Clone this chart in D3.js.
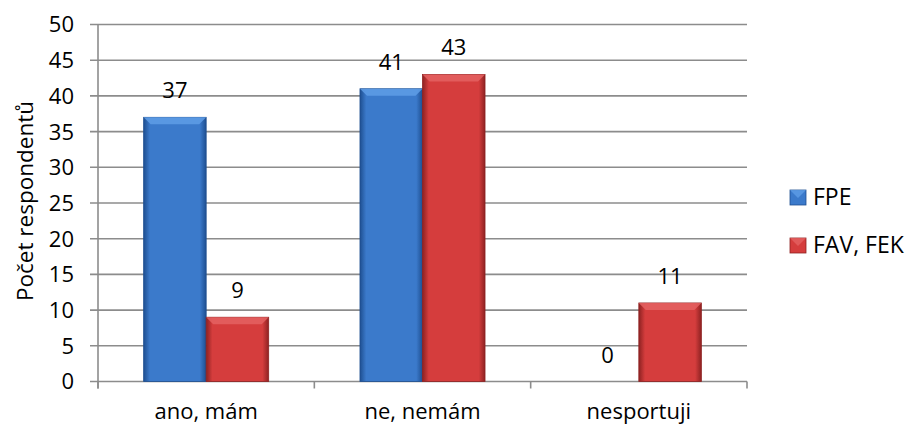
<!DOCTYPE html>
<html><head><meta charset="utf-8">
<script src="https://cdn.jsdelivr.net/npm/d3@7"></script>
<style>body{margin:0;background:#fff}text{font-family:"Open Sans",sans-serif;fill:#000}</style>
</head><body><svg id="c" width="909" height="428"></svg>
<script>
const categories = ["ano, mám", "ne, nemám", "nesportuji"];
const seriesNames = ["FPE", "FAV, FEK"];
const fpe = [37, 41, 0];
const favfek = [9, 43, 11];
const yTicks = [0, 5, 10, 15, 20, 25, 30, 35, 40, 45, 50];
const yTitle = "Počet respondentů";

const svg = d3.select("#c");
const L = 98, R = 747, T = 24.5, B = 381.5;
const x0 = d3.scaleBand().domain(categories).range([L, R]);
const x1 = d3.scaleBand().domain(seriesNames).range([0, x0.bandwidth()]).paddingOuter(0.73);
const y = d3.scaleLinear().domain([0, 50]).range([B, T]);
const values = [fpe, favfek];
const pal = [
  {main:"#3b7acb", light:"#5f9de6", dark:"#1e4f91", id:"gb"},
  {main:"#d53d3d", light:"#e46262", dark:"#8e2222", id:"gr"}
];
const defs = svg.append("defs");
pal.forEach(p => {
  const g = defs.append("linearGradient").attr("id", p.id).attr("x1", 0).attr("x2", 1).attr("y1", 0).attr("y2", 0);
  g.append("stop").attr("offset", 0).attr("stop-color", p.dark);
  g.append("stop").attr("offset", 0.1).attr("stop-color", p.main);
  g.append("stop").attr("offset", 0.9).attr("stop-color", p.main);
  g.append("stop").attr("offset", 1).attr("stop-color", p.dark);
});

svg.append("g").selectAll("line").data(yTicks).join("line")
  .attr("x1", L - 8).attr("x2", R).attr("y1", d => y(d)).attr("y2", d => y(d))
  .attr("stroke", "#8c8c8c").attr("stroke-width", 1.6);
svg.append("line").attr("x1", L).attr("x2", L).attr("y1", T).attr("y2", B + 7)
  .attr("stroke", "#8c8c8c").attr("stroke-width", 1.6);
const xt = categories.map(c => x0(c)).concat([R]);
svg.append("g").selectAll("line").data(xt).join("line")
  .attr("x1", d => d).attr("x2", d => d).attr("y1", B).attr("y2", B + 7)
  .attr("stroke", "#8c8c8c").attr("stroke-width", 1.6);

svg.append("g").selectAll("text").data(yTicks).join("text")
  .attr("x", 74).attr("y", d => y(d)).attr("dy", "0.36em").attr("text-anchor", "end")
  .style("font-size", "22px").text(d => d);

seriesNames.forEach((s, si) => {
  const p = pal[si];
  const g = svg.append("g");
  categories.forEach((c, ci) => {
    const v = values[si][ci];
    const bx = x0(c) + x1(s), bw = x1.bandwidth();
    const by = y(v), bh = B - by;
    if (bh > 0) {
      g.append("rect").attr("x", bx).attr("y", by).attr("width", bw).attr("height", bh)
        .attr("fill", `url(#${p.id})`).attr("stroke", p.dark).attr("stroke-width", 0.8);
      const bev = Math.min(7, bh / 2);
      g.append("polygon")
        .attr("points", [[bx, by], [bx + bw, by], [bx + bw - bev, by + bev], [bx + bev, by + bev]].map(q => q.join(",")).join(" "))
        .attr("fill", p.light).attr("opacity", 0.85);
    }
    g.append("text").attr("x", bx + bw / 2).attr("y", by - 19).attr("text-anchor", "middle")
      .style("font-size", "22px").text(v);
  });
});

svg.append("g").selectAll("text").data(categories).join("text")
  .attr("x", d => x0(d) + x0.bandwidth() / 2).attr("y", 419).attr("text-anchor", "middle")
  .style("font-size", "22px").text(d => d);

svg.append("text").attr("transform", "translate(33,201) rotate(-90)").attr("text-anchor", "middle")
  .style("font-size", "22.5px").text(yTitle);

const lg = svg.append("g");
seriesNames.forEach((s, i) => {
  const ly = 190 + i * 48;
  const p = pal[i];
  lg.append("rect").attr("x", 790).attr("y", ly).attr("width", 16).attr("height", 15)
    .attr("fill", p.main).attr("stroke", p.dark).attr("stroke-width", 0.8);
  lg.append("polygon").attr("points", `790,${ly} 806,${ly} 798,${ly + 8}`).attr("fill", p.light).attr("opacity", 0.8);
  lg.append("text").attr("x", 813).attr("y", ly + 15).style("font-size", "23px").text(s);
});
</script></body></html>
